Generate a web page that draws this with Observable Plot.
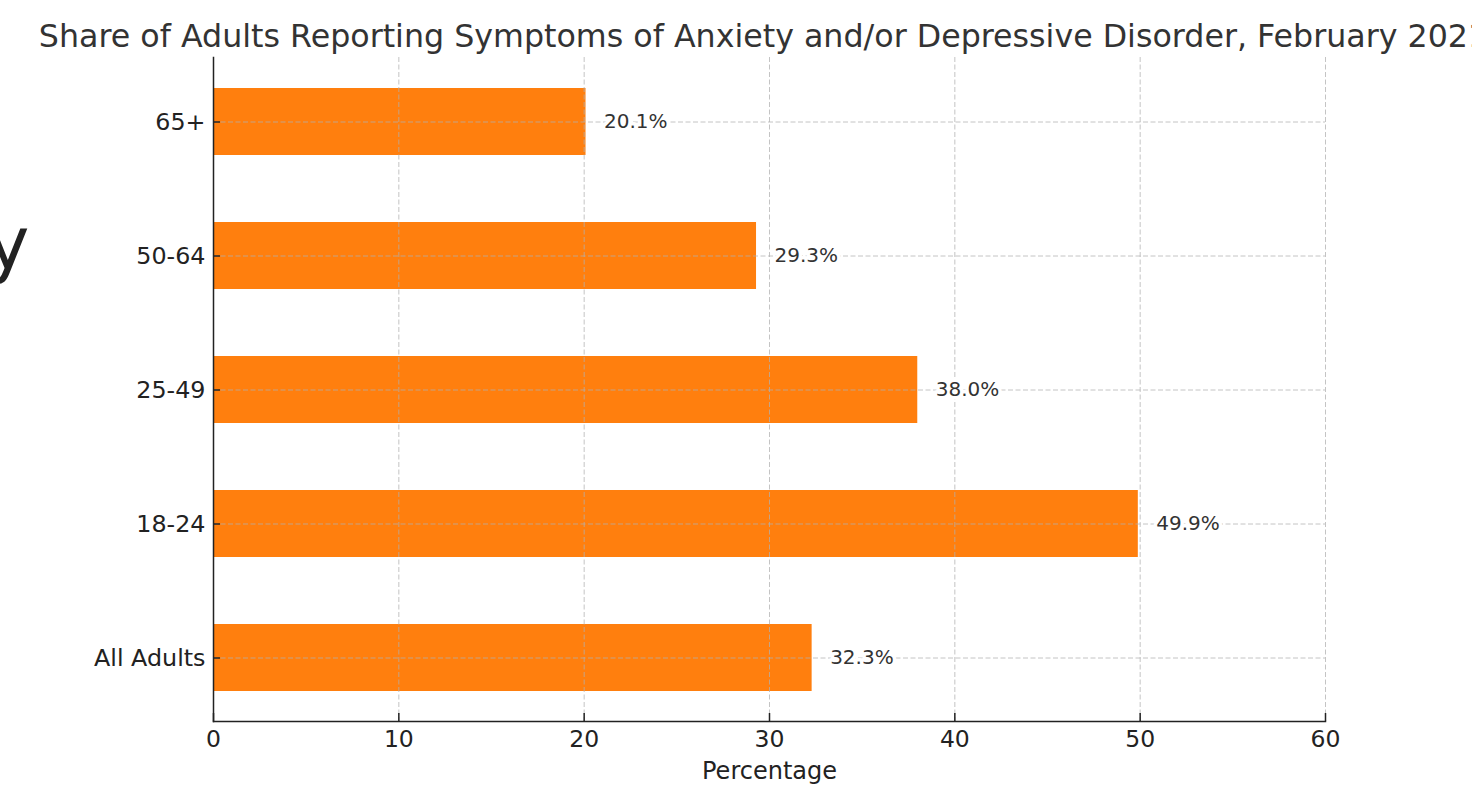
<!DOCTYPE html>
<html>
<head>
<meta charset="utf-8">
<script src="https://cdn.jsdelivr.net/npm/d3@7"></script>
<script src="https://cdn.jsdelivr.net/npm/@observablehq/plot@0.6"></script>
<style>
  html, body { margin: 0; padding: 0; background: white; overflow: hidden; }
  #chart { width: 1472px; height: 788px; overflow: hidden; }
</style>
</head>
<body>
<div id="chart"></div>
<script>
const categories = ["All Adults", "18-24", "25-49", "50-64", "65+"];
const values = [32.3, 49.9, 38.0, 29.3, 20.1];
const xTicks = [0, 10, 20, 30, 40, 50, 60];
const titleText = "Share of Adults Reporting Symptoms of Anxiety and/or Depressive Disorder, February 2021";
const xLabel = "Percentage";
const strayText = "y";

const data = categories.map((c, i) => ({group: c, value: values[i]}));
const gridStyle = {stroke: "#b0b0b0", strokeOpacity: 0.75, strokeWidth: 1, strokeDasharray: "5,2.5"};

const chart = Plot.plot({
  width: 1472,
  height: 788,
  marginTop: 57,
  marginBottom: 67,
  marginLeft: 213,
  marginRight: 147,
  style: {fontFamily: "DejaVu Sans", background: "white", overflow: "visible"},
  x: {domain: [0, 60], ticks: xTicks, label: null},
  y: {domain: [...categories].reverse(), paddingInner: 0.5, paddingOuter: 0.2276, label: null},
  marks: [
    Plot.barX(data, {x: "value", y: "group", fill: "#ff7f0e"}),
    Plot.gridX(xTicks.slice(1), gridStyle),
    Plot.gridY(categories, gridStyle),
    Plot.axisX({ticks: xTicks, tickSize: -8, tickPadding: 17, fontSize: 23.5, fill: "#222", stroke: "#222", strokeWidth: 1.5, label: null}),
    Plot.axisY({tickSize: -7, tickPadding: 15, fontSize: 23.8, fill: "#222", stroke: "#222", strokeWidth: 1.5, label: null}),
    Plot.frame({anchor: "left", stroke: "#222", strokeWidth: 1.5}),
    Plot.frame({anchor: "bottom", stroke: "#222", strokeWidth: 1.5}),
    Plot.text(data, {x: "value", y: "group", text: d => d.value.toFixed(1) + "%", textAnchor: "start", dx: 18, fontSize: 20, fill: "#333", stroke: "white", strokeWidth: 7}),
    Plot.text([titleText], {frameAnchor: "top", lineAnchor: "bottom", dx: -6, dy: -11, fontSize: 31.7, fill: "#333"}),
    Plot.text([xLabel], {frameAnchor: "bottom", lineAnchor: "bottom", dy: 57, fontSize: 24, fill: "#222"}),
    Plot.text([strayText], {frameAnchor: "left", textAnchor: "end", lineAnchor: "bottom", dx: -184, dy: -121, fontSize: 73, fill: "#222"})
  ]
});
document.getElementById("chart").appendChild(chart);
</script>
</body>
</html>
